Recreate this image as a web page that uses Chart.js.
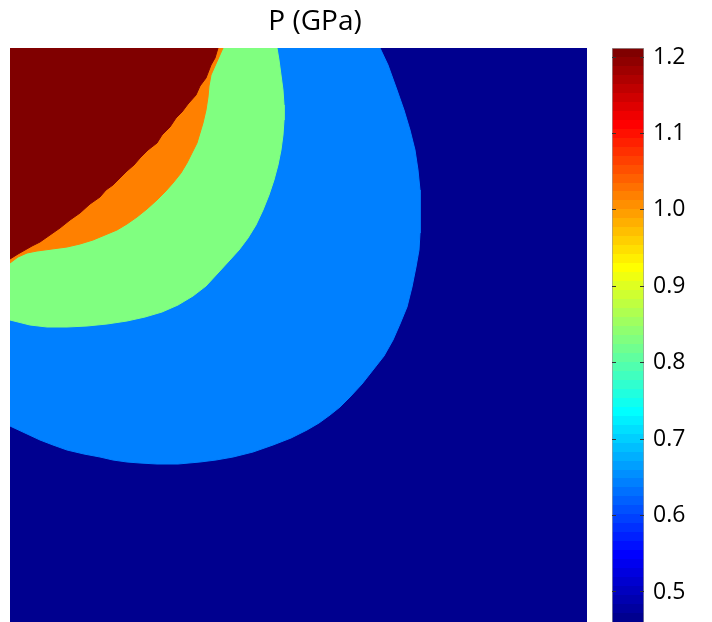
<!DOCTYPE html>
<html lang="en">
<head>
<meta charset="UTF-8">
<title>P (GPa)</title>
<script src="https://cdn.jsdelivr.net/npm/chart.js@4.4.0/dist/chart.umd.min.js"></script>
<style>
  body { margin: 0; background: #fff; }
  #wrap { position: relative; width: 712px; height: 622px; overflow: hidden; }
  #map { position: absolute; left: 0; top: 0; }
  #bar { position: absolute; left: 600px; top: 0; }
</style>
</head>
<body>
<div id="wrap">
  <canvas id="map" width="620" height="622"></canvas>
  <canvas id="bar" width="112" height="622"></canvas>
</div>
<script>
const redEdge = [[208,0],[205,10],[201,17],[196,30],[190,38],[186,47],[178,56],[172,64],[166,70],[160,79],
  [152,87],[147,95],[138,102],[130,110],[124,117],[117,123],[110,130],[103,137],[96,142],[90,149],
  [80,156],[70,165],[60,172],[50,180],[40,187],[30,194],[22,198],[15,202],[8,206],[0,211]];
const orangeEdge = [[213,0],[209,9],[205,18],[201,27],[199,38],[198,49],[196,62],[193,75],[190,85],[187,95],
  [182,105],[177,115],[171,125],[163,135],[155,144],[147,152],[137,161],[127,169],[117,176],[107,182],
  [95,187],[83,192],[70,196],[57,199],[42,201],[27,203],[17,205],[8,209],[0,215]];
const greenEdge = [[267,0],[269,12],[271,27],[273,42],[274,57],[274,72],[273,87],[271,102],[268,117],
  [264,132],[259,147],[253,162],[246,177],[238,190],[229,202],[219,213],[208,225],[196,238],[183,248],
  [168,257],[152,264],[135,269],[117,273],[97,276],[77,278],[57,279],[37,279],[20,277],[0,272]];
const blueEdge = [[370,0],[378,17],[387,42],[394,62],[400,82],[405,102],[408,122],[410,142],[410,162],
  [410,185],[409,202],[406,219],[402,239],[397,259],[390,276],[383,292],[374,308],[363,322],[352,336],
  [340,349],[330,359],[320,367],[309,375],[297,382],[281,390],[263,397],[243,404],[223,409],[206,412],
  [190,414],[168,416],[147,416],[130,415],[117,414],[103,412],[90,409],[74,406],[57,402],[43,397],
  [30,392],[15,385],[0,378]];
const domainX = [0, 577];
const domainY = [0, 574];

// colour scale
const cbMin = 0.4607;
const cbMax = 1.2118;
const cbTicks = [0.5, 0.6, 0.7, 0.8, 0.9, 1.0, 1.1, 1.2];
const levelColors = ['#800000', '#FF8000', '#80FF80', '#0080FF', '#00008F'];

const FONT = "'Open Sans', 'DejaVu Sans', sans-serif";

// matlab jet(64)
function jet(m) {
  const n = Math.ceil(m / 4);
  const u = [];
  for (let i = 1; i <= n; i++) u.push(i / n);
  for (let i = 1; i < n; i++) u.push(1);
  for (let i = n; i >= 1; i--) u.push(i / n);
  const g0 = Math.ceil(n / 2) - (m % 4 === 1 ? 1 : 0);
  const J = Array.from({length: m}, () => [0, 0, 0]);
  u.forEach((v, k) => {
    const g = g0 + k + 1, r = g + n, b = g - n;
    if (r >= 1 && r <= m) J[r - 1][0] = v;
    if (g >= 1 && g <= m) J[g - 1][1] = v;
    if (b >= 1 && b <= m) J[b - 1][2] = v;
  });
  return J.map(c => 'rgb(' + c.map(v => Math.round(v * 255)).join(',') + ')');
}
const jetColors = jet(64);

// region = top-left corner + top edge + boundary back to the left edge
function region(edge) {
  return [[0, 0]].concat(edge).concat([[0, 0]]).map(p => ({x: p[0], y: p[1]}));
}
const fullBox = [[0,0],[domainX[1],0],[domainX[1],domainY[1]],[0,domainY[1]],[0,0]].map(p => ({x: p[0], y: p[1]}));

function area(data, color) {
  return {
    data: data,
    showLine: true,
    fill: 'shape',
    backgroundColor: color,
    borderColor: color,
    borderWidth: 1,
    pointRadius: 0,
    tension: 0
  };
}

new Chart(document.getElementById('map'), {
  type: 'scatter',
  data: {
    datasets: [
      area(region(redEdge), levelColors[0]),
      area(region(orangeEdge), levelColors[1]),
      area(region(greenEdge), levelColors[2]),
      area(region(blueEdge), levelColors[3]),
      area(fullBox, levelColors[4])
    ]
  },
  options: {
    responsive: false,
    animation: false,
    layout: { padding: { left: 10, right: 0, top: 0, bottom: 0 } },
    plugins: {
      legend: { display: false },
      tooltip: { enabled: false },
      title: {
        display: true,
        text: 'P (GPa)',
        color: '#000',
        font: { family: FONT, size: 28, weight: 'normal' },
        padding: { top: 5, bottom: 9.4 }
      }
    },
    scales: {
      x: { type: 'linear', min: domainX[0], max: domainX[1], display: false },
      y: {
        type: 'linear', min: domainY[0], max: domainY[1], reverse: true, position: 'right',
        ticks: { display: false }, grid: { display: false }, border: { display: false },
        afterFit: s => { s.width = 33; }
      }
    }
  }
});

new Chart(document.getElementById('bar'), {
  type: 'bar',
  data: {
    labels: ['P'],
    datasets: [{
      data: [[cbMin, cbMax]],
      barPercentage: 1,
      categoryPercentage: 1,
      borderWidth: 1,
      borderColor: '#9a9a9a',
      backgroundColor: ctx => {
        const a = ctx.chart.chartArea;
        if (!a) return jetColors[0];
        const grad = ctx.chart.ctx.createLinearGradient(0, a.bottom, 0, a.top);
        jetColors.forEach((c, i) => {
          grad.addColorStop(i / 64, c);
          grad.addColorStop((i + 1) / 64, c);
        });
        return grad;
      }
    }]
  },
  options: {
    responsive: false,
    animation: false,
    layout: { padding: { left: 12, right: 0, top: 48, bottom: 0 } },
    plugins: { legend: { display: false }, tooltip: { enabled: false } },
    scales: {
      x: { display: false },
      y: {
        position: 'right',
        min: cbMin,
        max: cbMax,
        afterBuildTicks: s => { s.ticks = cbTicks.map(v => ({value: v})); },
        afterFit: s => { s.width = 68; s.paddingTop = 0; s.paddingBottom = 0; },
        ticks: {
          padding: 9,
          color: '#000',
          font: { family: FONT, size: 23 },
          callback: v => v.toFixed(1)
        },
        grid: { drawOnChartArea: true, drawTicks: false, color: '#333', lineWidth: 1, z: 1 },
        border: { display: false, dash: [4, 24] }
      }
    }
  }
});
</script>
</body>
</html>
